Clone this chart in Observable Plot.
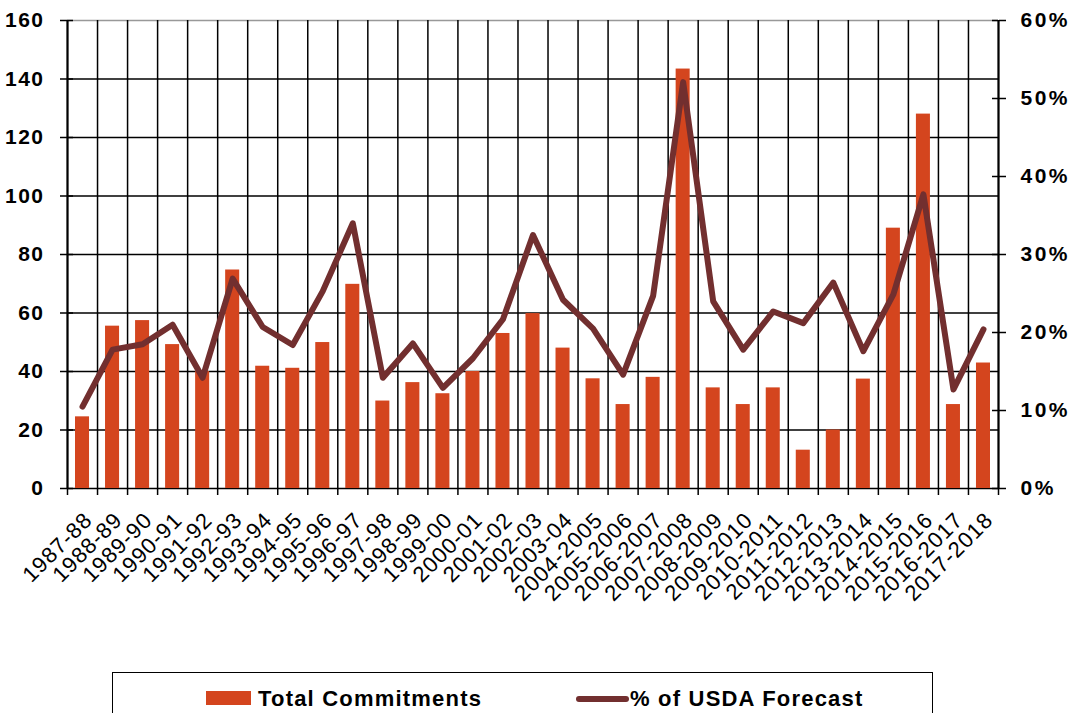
<!DOCTYPE html>
<html>
<head>
<meta charset="utf-8">
<script src="https://cdn.jsdelivr.net/npm/d3@7"></script>
<script src="https://cdn.jsdelivr.net/npm/@observablehq/plot@0.6"></script>
<style>
  html, body { margin: 0; padding: 0; background: white; }
  body { position: relative; width: 1071px; height: 713px; overflow: hidden; font-family: "Liberation Sans", Arial, sans-serif; }
  #legend { position: absolute; left: 112px; top: 672px; width: 821px; height: 60px; border: 1.5px solid #000; box-sizing: border-box; }
  .item { position: absolute; top: 13px; font-weight: bold; font-size: 22px; letter-spacing: 1.2px; color: #000; white-space: nowrap; }
  .sw-bar { position: absolute; width: 45px; height: 14px; background: #D4451E; top: 5px; }
  .sw-line { position: absolute; width: 53px; height: 6px; background: #722F2F; border-radius: 3px; top: 10px; }
  g[aria-label="y-axis tick label"][text-anchor="end"] text { letter-spacing: 1.5px; }
  g[aria-label="y-axis tick label"][text-anchor="start"] text { letter-spacing: 2.5px; }
  g[aria-label="text"] text { letter-spacing: 1px; }
</style>
</head>
<body>
<div id="chart"></div>
<div id="legend">
  <div class="item" style="left:93px"><span class="sw-bar" style="left:0"></span><span style="margin-left:52px">Total Commitments</span></div>
  <div class="item" style="left:463px"><span class="sw-line" style="left:0"></span><span style="margin-left:54px">% of USDA Forecast</span></div>
</div>
<script>
const categories = ["1987-88","1988-89","1989-90","1990-91","1991-92","1992-93","1993-94","1994-95","1995-96","1996-97","1997-98","1998-99","1999-00","2000-01","2001-02","2002-03","2003-04","2004-2005","2005-2006","2006-2007","2007-2008","2008-2009","2009-2010","2010-2011","2011-2012","2012-2013","2013-2014","2014-2015","2015-2016","2016-2017","2017-2018"];
const totalCommitments = [24.5,55.5,57.4,49.2,40,74.7,41.8,41.1,49.9,69.8,29.9,36.2,32.4,40.0,53.0,59.8,48.0,37.5,28.7,38.0,143.4,34.4,28.7,34.4,13.1,20.0,37.4,89.0,128.0,28.7,42.9];
const pctOfForecast = [10.5,17.8,18.5,21.0,14.2,26.9,20.7,18.4,25.3,34.0,14.2,18.6,12.9,16.7,21.7,32.5,24.2,20.5,14.6,24.7,52.1,24.0,17.8,22.7,21.2,26.4,17.6,24.9,37.7,12.7,20.4];
const leftTicks = [0,20,40,60,80,100,120,140,160];
const rightTicks = [0,10,20,30,40,50,60];

const k = 160 / 60; // percent -> left-axis units
const n = categories.length;
const data = categories.map((c, i) => ({c, i, v: totalCommitments[i], p: pctOfForecast[i]}));

const chart = Plot.plot({
  width: 1071,
  height: 660,
  marginLeft: 67,
  marginRight: 73,
  marginTop: 20,
  marginBottom: 172,
  style: {fontFamily: "'Liberation Sans', Arial, sans-serif", color: "#000", background: "white", overflow: "visible"},
  x: {type: "linear", domain: [0, n], axis: null},
  y: {domain: [0, 160], axis: null},
  marks: [
    Plot.ruleY(leftTicks.filter(d => d < 160), {stroke: "#000", strokeWidth: 1.5}),
    Plot.ruleY([160], {stroke: "#999", strokeWidth: 1.5}),
    Plot.ruleX(d3.range(n + 1), {stroke: "#000", strokeWidth: 1.5}),
    Plot.rectY(data, {x1: d => d.i, x2: d => d.i + 1, y: "v", insetLeft: 8, insetRight: 8, fill: "#D4451E"}),
    Plot.line(data, {x: d => d.i + 0.5, y: d => d.p * k, stroke: "#722F2F", strokeWidth: 6, strokeLinejoin: "round", strokeLinecap: "round"}),
    Plot.axisX({ticks: d3.range(n + 1), tickFormat: () => "", tickSize: 7, label: null, stroke: "#000", strokeWidth: 1.5}),
    Plot.axisY({anchor: "left", ticks: leftTicks, tickSize: 7, tickPadding: 16, fontSize: 21, fontWeight: "bold", label: null, strokeWidth: 1.5}),
    Plot.axisY({anchor: "right", ticks: rightTicks.map(d => d * k), tickFormat: d => Math.round(d / k) + "%", tickSize: 7, tickPadding: 15, fontSize: 21, fontWeight: "bold", label: null, strokeWidth: 1.5}),
    Plot.ruleY(leftTicks, {x1: 0, x2: 0, insetRight: -6, stroke: "#000", strokeWidth: 1.5}),
    Plot.ruleY(rightTicks.map(d => d * k), {x1: n, x2: n, insetLeft: -6, stroke: "#000", strokeWidth: 1.5}),
    Plot.ruleX([0, n], {stroke: "#000", strokeWidth: 2}),
    Plot.text(data, {x: d => d.i + 0.5, y: 0, text: "c", rotate: -45, textAnchor: "end", dx: 6, dy: 28, fontSize: 22, fill: "#000"})
  ]
});
document.getElementById("chart").appendChild(chart);
</script>
</body>
</html>
